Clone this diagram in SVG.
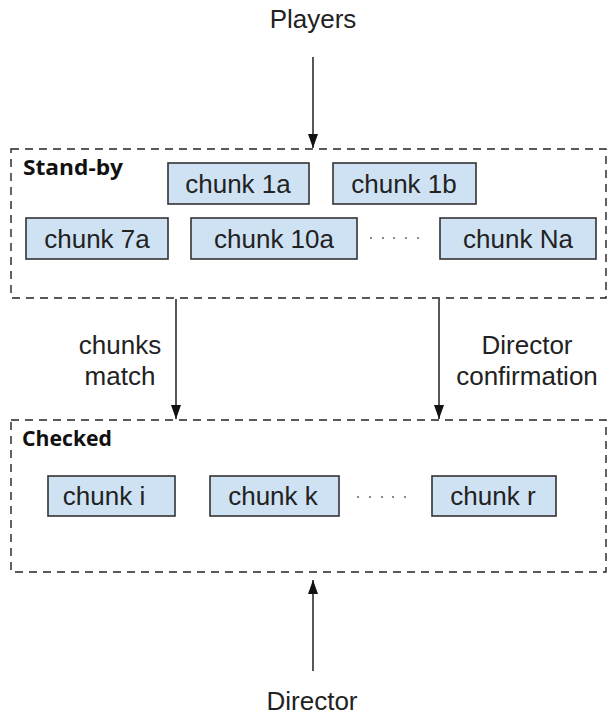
<svg xmlns="http://www.w3.org/2000/svg" width="608" height="716" viewBox="0 0 608 716">
<style>
.c{font-family:"Liberation Sans",Arial,sans-serif;font-size:26px;fill:#222;text-anchor:middle}
.lbl{font-family:"Open Sans","Liberation Sans",sans-serif;font-weight:bold;font-size:21px;fill:#111}
.grp{fill:none;stroke:#222;stroke-width:1.4;stroke-dasharray:8 6}
.chunk rect{fill:#cfe2f3;stroke:#333;stroke-width:1.6}
.arr{stroke:#111;stroke-width:1.4;fill:none;marker-end:url(#ah)}
.dot{fill:#666}
</style>
<defs>
<marker id="ah" viewBox="0 0 10 10" refX="10" refY="5" markerWidth="14" markerHeight="10" preserveAspectRatio="none" markerUnits="userSpaceOnUse" orient="auto">
<path d="M0,0 L10,5 L0,10 Z" fill="#111"/>
</marker>
</defs>
<rect fill="#fff" x="0" y="0" width="608" height="716"/>

<g id="standby">
<rect class="grp" x="11" y="149" width="595" height="149"/>
<text class="lbl" x="23" y="175" textLength="100" lengthAdjust="spacingAndGlyphs">Stand-by</text>
</g>
<g id="chunk1a" class="chunk"><rect x="168" y="163" width="141" height="41"/><text class="c" x="238" y="193">chunk 1a</text></g>
<g id="chunk1b" class="chunk"><rect x="333" y="163" width="143" height="41"/><text class="c" x="404" y="193">chunk 1b</text></g>
<g id="chunk7a" class="chunk"><rect x="26" y="218" width="142" height="41"/><text class="c" x="97" y="248">chunk 7a</text></g>
<g id="chunk10a" class="chunk"><rect x="191" y="218" width="166" height="41"/><text class="c" x="274" y="248">chunk 10a</text></g>
<g id="chunkNa" class="chunk"><rect x="440" y="218" width="156" height="41"/><text class="c" x="518" y="248">chunk Na</text></g>
<g id="dots1">
<circle class="dot" cx="371" cy="238" r="1"/><circle class="dot" cx="383" cy="238" r="1"/><circle class="dot" cx="394" cy="238" r="1"/><circle class="dot" cx="406" cy="238" r="1"/><circle class="dot" cx="418" cy="238" r="1"/>
</g>

<g id="checked">
<rect class="grp" x="11" y="420" width="595" height="152"/>
<text class="lbl" x="22" y="446" textLength="90" lengthAdjust="spacingAndGlyphs">Checked</text>
</g>
<g id="chunki" class="chunk"><rect x="48" y="476" width="127" height="40"/><text class="c" x="104" y="505">chunk i</text></g>
<g id="chunkk" class="chunk"><rect x="210" y="476" width="129" height="40"/><text class="c" x="273" y="505">chunk k</text></g>
<g id="chunkr" class="chunk"><rect x="432" y="476" width="124" height="40"/><text class="c" x="493" y="505">chunk r</text></g>
<g id="dots2">
<circle class="dot" cx="358" cy="497" r="1"/><circle class="dot" cx="370" cy="497" r="1"/><circle class="dot" cx="382" cy="497" r="1"/><circle class="dot" cx="393" cy="497" r="1"/><circle class="dot" cx="405" cy="497" r="1"/>
</g>

<g id="players"><text class="c" x="313" y="28">Players</text></g>
<g id="director"><text class="c" x="312" y="710">Director</text></g>

<g id="connectors">
<line class="arr" x1="313" y1="57" x2="313" y2="148"/>
<line class="arr" x1="176" y1="299" x2="176" y2="419"/>
<line class="arr" x1="439" y1="299" x2="439" y2="419"/>
<line class="arr" x1="313" y1="671" x2="313" y2="580"/>
<text class="c" x="120" y="354">chunks</text>
<text class="c" x="120" y="385">match</text>
<text class="c" x="527" y="354">Director</text>
<text class="c" x="527" y="385">confirmation</text>
</g>
</svg>
